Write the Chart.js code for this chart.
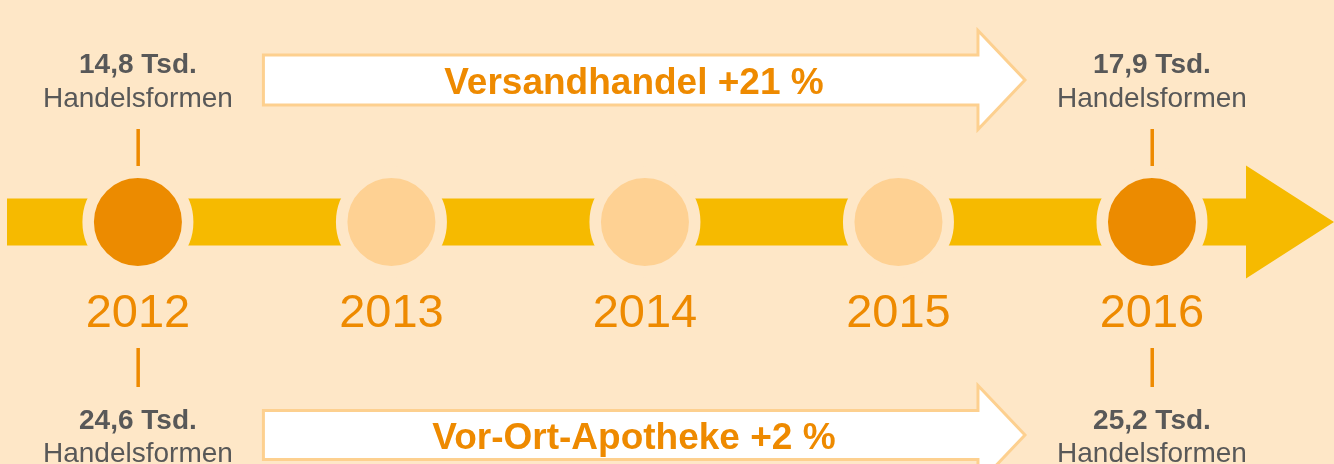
<!DOCTYPE html>
<html lang="de">
<head>
<meta charset="utf-8">
<title>Handelsformen 2012 - 2016</title>
<script src="https://cdn.jsdelivr.net/npm/chart.js@4.4.1/dist/chart.umd.min.js"></script>
<style>
    html, body { margin: 0; padding: 0; background: #FEE7C7; }
    #wrap { width: 1334px; height: 464px; }
</style>
</head>
<body>
<div id="wrap"><canvas id="timelineChart" width="1334" height="464"></canvas></div>
<script>
// --- DATA ---
const years = [2012, 2013, 2014, 2015, 2016];
const highlightYears = [2012, 2016];
const versandhandel = [14.8, 17.9];     // Tsd. Handelsformen (2012, 2016)
const vorOrtApotheke = [24.6, 25.2];    // Tsd. Handelsformen (2012, 2016)
const seriesNames = ['Versandhandel', 'Vor-Ort-Apotheke'];
const unitLabel = 'Handelsformen';

// --- STYLE ---
const BG = '#FEE7C7';
const BAR = '#F6BA00';
const DARK = '#EC8B00';
const LIGHT = '#FED193';
const ORANGE = '#EE8A00';
const GRAY = '#585858';
const ARROW_EDGE = '#FDD08F';
const FONT = '"Liberation Sans", Arial, sans-serif';

// layout (y scale runs top -> bottom in canvas units)
const TIMELINE_Y = 222;

function fmt(v) {
    return v.toFixed(1).replace('.', ',') + ' Tsd.';
}
function growth(pair) {
    return Math.round((pair[1] / pair[0] - 1) * 100);
}

function drawOutlineArrow(ctx, left, tip, cy, bodyHalf, headHalf, headLen) {
    ctx.beginPath();
    ctx.moveTo(left, cy - bodyHalf);
    ctx.lineTo(tip - headLen, cy - bodyHalf);
    ctx.lineTo(tip - headLen, cy - headHalf);
    ctx.lineTo(tip, cy);
    ctx.lineTo(tip - headLen, cy + headHalf);
    ctx.lineTo(tip - headLen, cy + bodyHalf);
    ctx.lineTo(left, cy + bodyHalf);
    ctx.closePath();
    ctx.fillStyle = '#ffffff';
    ctx.fill();
    ctx.lineWidth = 3;
    ctx.strokeStyle = ARROW_EDGE;
    ctx.lineJoin = 'miter';
    ctx.stroke();
}

const timelinePlugin = {
    id: 'timeline',
    beforeDraw(chart) {
        const { ctx, width, height } = chart;
        ctx.save();
        ctx.fillStyle = BG;
        ctx.fillRect(0, 0, width, height);
        ctx.restore();
    },
    beforeDatasetsDraw(chart) {
        const { ctx, chartArea } = chart;
        const xs = chart.scales.x, ys = chart.scales.y;
        const cy = ys.getPixelForValue(TIMELINE_Y);
        ctx.save();

        // big timeline arrow
        const tip = chartArea.right;
        const headBase = tip - 88;
        ctx.beginPath();
        ctx.moveTo(chartArea.left + 7, cy - 23.5);
        ctx.lineTo(headBase, cy - 23.5);
        ctx.lineTo(headBase, cy - 56.5);
        ctx.lineTo(tip, cy);
        ctx.lineTo(headBase, cy + 56.5);
        ctx.lineTo(headBase, cy + 23.5);
        ctx.lineTo(chartArea.left + 7, cy + 23.5);
        ctx.closePath();
        ctx.fillStyle = BAR;
        ctx.fill();

        // growth arrows between first and last year
        const x0 = xs.getPixelForValue(highlightYears[0]);
        const x1 = xs.getPixelForValue(highlightYears[1]);
        const aLeft = x0 + 125.5, aTip = x1 - 127;
        drawOutlineArrow(ctx, aLeft, aTip, ys.getPixelForValue(80), 25, 49.5, 47);
        drawOutlineArrow(ctx, aLeft, aTip, ys.getPixelForValue(435), 24.5, 49.5, 47);

        // ticks for highlighted years
        ctx.fillStyle = ORANGE;
        highlightYears.forEach(yr => {
            const x = xs.getPixelForValue(yr);
            ctx.fillRect(x - 1.5, ys.getPixelForValue(129), 3.5, 37);
            ctx.fillRect(x - 1.5, ys.getPixelForValue(348), 3.5, 39);
        });
        ctx.restore();
    },
    afterDatasetsDraw(chart) {
        const { ctx } = chart;
        const xs = chart.scales.x, ys = chart.scales.y;
        ctx.save();
        ctx.textAlign = 'center';
        ctx.textBaseline = 'alphabetic';

        const x0 = xs.getPixelForValue(highlightYears[0]);
        const x1 = xs.getPixelForValue(highlightYears[1]);
        const tx = (x0 + x1) / 2 - 11;
        ctx.font = 'bold 37px ' + FONT;
        ctx.fillStyle = ORANGE;
        ctx.fillText(seriesNames[0] + ' +' + growth(versandhandel) + ' %', tx, ys.getPixelForValue(94));
        ctx.fillText(seriesNames[1] + ' +' + growth(vorOrtApotheke) + ' %', tx, ys.getPixelForValue(449));

        highlightYears.forEach((yr, i) => {
            const x = xs.getPixelForValue(yr);
            ctx.fillStyle = GRAY;
            ctx.font = 'bold 28px ' + FONT;
            ctx.fillText(fmt(versandhandel[i]), x, ys.getPixelForValue(73));
            ctx.fillText(fmt(vorOrtApotheke[i]), x, ys.getPixelForValue(429));
            ctx.font = '28px ' + FONT;
            ctx.fillText(unitLabel, x, ys.getPixelForValue(107));
            ctx.fillText(unitLabel, x, ys.getPixelForValue(462));
        });

        // year labels
        ctx.font = '47px ' + FONT;
        ctx.fillStyle = ORANGE;
        years.forEach(yr => {
            ctx.fillText(String(yr), xs.getPixelForValue(yr), ys.getPixelForValue(327));
        });
        ctx.restore();
    }
};

const ctx = document.getElementById('timelineChart');
new Chart(ctx, {
    type: 'scatter',
    data: {
        datasets: [{
            data: years.map(yr => ({ x: yr, y: TIMELINE_Y })),
            pointRadius: 49.75,
            pointHoverRadius: 49.75,
            borderWidth: 11.5,
            borderColor: BG,
            backgroundColor: years.map(yr => highlightYears.includes(yr) ? DARK : LIGHT)
        }]
    },
    options: {
        responsive: false,
        animation: false,
        events: [],
        layout: { padding: 0, autoPadding: false },
        scales: {
            x: { type: 'linear', min: 2011.456, max: 2016.718, display: false },
            y: { type: 'linear', min: 0, max: 464, reverse: true, display: false }
        },
        plugins: { legend: { display: false }, tooltip: { enabled: false } }
    },
    plugins: [timelinePlugin]
});
</script>
</body>
</html>
